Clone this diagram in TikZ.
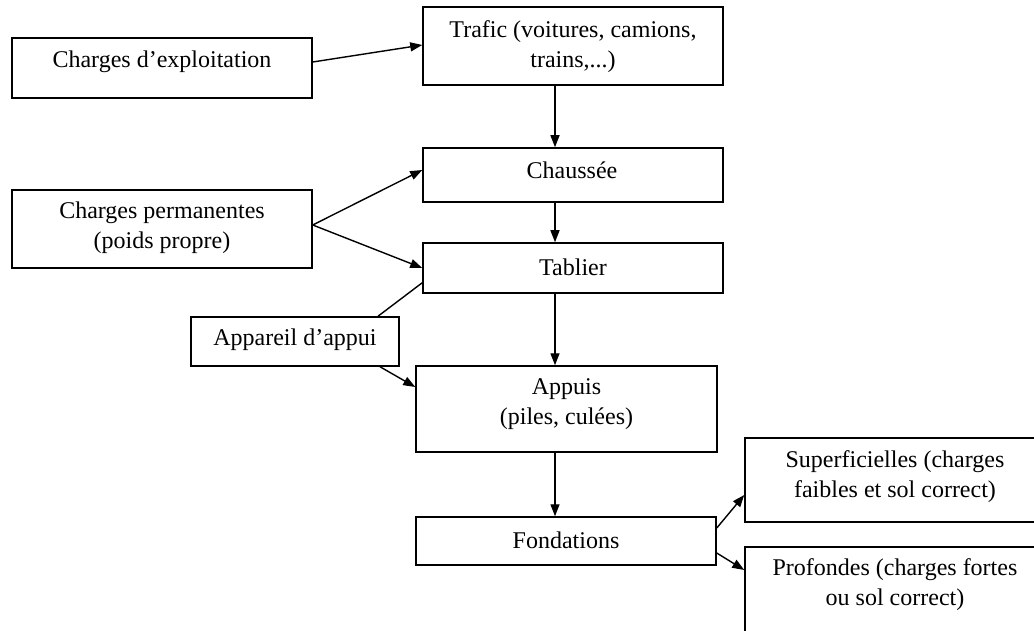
\documentclass[tikz,border=0pt]{standalone}
\usepackage{fontspec}
\setmainfont{Liberation Serif}
\usetikzlibrary{arrows.meta,calc}
\begin{document}
\begin{tikzpicture}[x=1pt,y=-1pt,
  box/.style={draw=black, line width=1.5pt, rectangle, inner sep=0pt},
  txt/.style={align=center, inner sep=0pt, font=\fontsize{24}{30}\selectfont},
  arr/.style={line width=1.4pt, -{Triangle[length=12pt,width=9pt]}},
  plain/.style={line width=1.4pt}]
\useasboundingbox (0,0) rectangle (1034,631);
% boxes
\node[box, minimum width=300, minimum height=60] (b1) at (162,68) {};
\node[box, minimum width=300, minimum height=78] (b2) at (573,46) {};
\node[box, minimum width=300, minimum height=54] (b3) at (573,175) {};
\node[box, minimum width=300, minimum height=78] (b4) at (162,229) {};
\node[box, minimum width=300, minimum height=50] (b5) at (573,268) {};
\node[box, minimum width=208, minimum height=49, fill=white] (b6) at (295,341.5) {};
\node[box, minimum width=301, minimum height=86] (b7) at (566.5,409) {};
\node[box, minimum width=300, minimum height=48] (b8) at (566,541) {};
\node[box, minimum width=301, minimum height=84] (b9) at (895.5,480) {};
\node[box, minimum width=301, minimum height=106] (b10) at (895.5,600) {};
% labels
\node[txt] (t1) at (162,62) {Charges d’exploitation};
\node[txt] (t2) at (573,47) {Trafic (voitures, camions,\\trains,...)};
\node[txt] (t3) at (572,170) {Chaussée};
\node[txt] (t4) at (162,228) {Charges permanentes\\(poids propre)};
\node[txt] (t5) at (573,267) {Tablier};
\node[txt] (t6) at (295,340) {Appareil d’appui};
\node[txt] (t7) at (566.5,404) {Appuis\\(piles, culées)};
\node[txt] (t8) at (566,540) {Fondations};
\node[txt] (t9) at (895,477) {Superficielles (charges\\faibles et sol correct)};
\node[txt] (t10) at (895,585) {Profondes (charges fortes\\ou sol correct)};
% connectors
\draw[arr] ($(b1.east)+(0,-6)$) -- ($(b2.west)+(0,-1)$);
\draw[arr] ($(b2.south)+(-18,0)$) -- ($(b3.north)+(-18,0)$);
\draw[arr] ($(b3.south)+(-18,0)$) -- ($(b5.north)+(-18,0)$);
\draw[arr] ($(b4.east)+(0,-4)$) -- ($(b3.west)+(0,-5)$);
\draw[arr] ($(b4.east)+(0,-4)$) -- (b5.west);
\draw[arr] ($(b5.south)+(-18,0)$) -- ($(b7.north)+(-11.5,0)$);
\draw[plain] ($(b5.south west)+(0,-11)$) -- ($(b6.north)+(83,0)$);
\draw[arr] ($(b6.south)+(85,0)$) -- ($(b7.west)+(0,-22)$);
\draw[arr] ($(b7.south)+(-11.5,0)$) -- ($(b8.north)+(-11,0)$);
\draw[arr] ($(b8.east)+(0,-13)$) -- ($(b9.west)+(0,15)$);
\draw[arr] ($(b8.east)+(0,12)$) -- ($(b10.west)+(0,-30)$);
\end{tikzpicture}
\end{document}
